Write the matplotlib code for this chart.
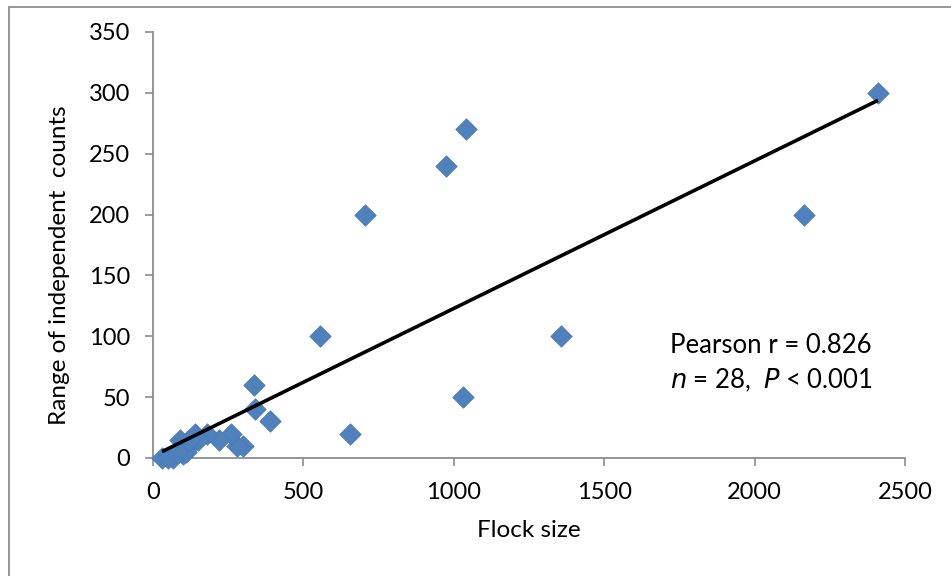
import numpy as np
import matplotlib
matplotlib.use("Agg")
import matplotlib.pyplot as plt
from matplotlib.patches import Rectangle

plt.rcParams['font.family'] = ['Lato', 'DejaVu Sans']

# Flock size vs. range of independent counts
flock_size = [2410, 2165, 1040, 975, 705, 555, 1355, 1030, 655, 335,
              340, 390, 300, 280, 260, 220, 180, 140, 120, 90,
              110, 100, 65, 30, 150, 120, 50, 80]
count_range = [300, 200, 270, 240, 200, 100, 100, 50, 20, 60,
               40, 30, 10, 10, 20, 15, 20, 20, 10, 15,
               5, 3, 0, 0, 15, 15, 0, 5]

x_ticks = [0, 500, 1000, 1500, 2000, 2500]
y_ticks = [0, 50, 100, 150, 200, 250, 300, 350]

W, H, DPI = 951, 576, 100
fig = plt.figure(figsize=(W / DPI, H / DPI), dpi=DPI)
fig.patch.set_facecolor('white')

# outer chart-area frame
fig.add_artist(Rectangle((9 / W, -0.05), 1.2, 1 - 7 / H + 0.05,
                         transform=fig.transFigure, fill=False,
                         edgecolor='#8c8c8c', linewidth=1.3))

left, right, top, bottom = 153, 905, 32, 458
ax = fig.add_axes([left / W, 1 - bottom / H, (right - left) / W, (bottom - top) / H])

x = np.array(flock_size, dtype=float)
y = np.array(count_range, dtype=float)

ax.scatter(x, y, marker='D', s=120, color='#4f81bd', edgecolors='#4a7ab3',
           linewidths=0.5, zorder=3, clip_on=False)

# least-squares trend line across the data range
slope, intercept = np.polyfit(x, y, 1)
xs = np.array([x.min(), x.max()])
ax.plot(xs, slope * xs + intercept, color='black', linewidth=2.6, zorder=4,
        solid_capstyle='butt')

ax.set_xlim(0, 2500)
ax.set_ylim(0, 350)
ax.set_xticks(x_ticks)
ax.set_yticks(y_ticks)
ax.tick_params(axis='both', labelsize=17, color='#8c8c8c', length=5.5,
               direction='out', width=1.2)
ax.tick_params(axis='y', pad=11)
ax.tick_params(axis='x', pad=12)
for s in ['top', 'right']:
    ax.spines[s].set_visible(False)
for s in ['left', 'bottom']:
    ax.spines[s].set_color('#8c8c8c')
    ax.spines[s].set_linewidth(1.3)

ax.set_xlabel('Flock size', fontsize=17.5, labelpad=12)
ax.set_ylabel('Range of independent  counts', fontsize=17.5)
ax.yaxis.set_label_coords(-83 / (right - left), 0.453)

ax.text(1719, 86, 'Pearson r = 0.826', fontsize=18.5, transform=ax.transData,
        ha='left', va='baseline')
ax.text(1719, 57.5, '$n$ = 28,  $P$ < 0.001', fontsize=18.5, transform=ax.transData,
        ha='left', va='baseline')

fig.savefig('out.png', dpi=DPI)
